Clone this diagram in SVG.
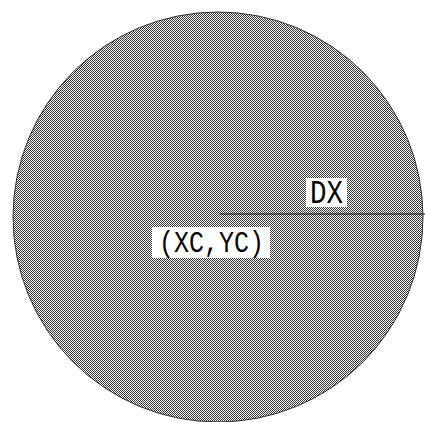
<svg xmlns="http://www.w3.org/2000/svg" width="425" height="422" viewBox="0 0 425 422">
  <defs>
    <pattern id="dither" width="2" height="2" patternUnits="userSpaceOnUse">
      <rect x="0" y="0" width="2" height="2" fill="#f4f4f4"/>
      <rect x="0" y="0" width="1" height="1" fill="#3a3a3a"/>
      <rect x="1" y="1" width="1" height="1" fill="#3a3a3a"/>
    </pattern>
    <style>
      .lbl { font-family: "Liberation Mono", "DejaVu Sans Mono", monospace; fill: #000; }
      .box { fill: #ffffff; }
      .conn { stroke: #111; stroke-width: 1.2; fill: none; }
    </style>
  </defs>
  <rect x="0" y="0" width="425" height="422" fill="#ffffff"/>
  <g id="circle">
    <circle cx="218" cy="217" r="205" fill="url(#dither)" stroke="#333" stroke-width="1"/>
  </g>
  <g id="connectors">
    <line class="conn" x1="220" y1="214" x2="425" y2="214"/>
  </g>
  <g id="dx-label">
    <rect class="box" x="306" y="178" width="41" height="29"/>
    <text class="lbl" x="310" y="203" font-size="33" textLength="33" lengthAdjust="spacingAndGlyphs">DX</text>
  </g>
  <g id="center-label">
    <rect class="box" x="152" y="227" width="118" height="31"/>
    <text class="lbl" x="159" y="252" font-size="30" textLength="105" lengthAdjust="spacingAndGlyphs">(XC,YC)</text>
  </g>
</svg>
